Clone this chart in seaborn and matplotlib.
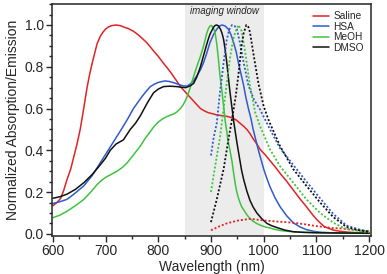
import matplotlib
matplotlib.use('Agg')
import matplotlib.pyplot as plt
from matplotlib.ticker import MultipleLocator
import seaborn as sns

# Absorption spectra (solid lines)
saline_abs_wl = [600, 608, 615, 621, 627, 634, 640, 646, 652, 658, 665, 670, 675, 680, 684, 690, 695,
                 700, 705, 712, 720, 728, 735, 744, 753, 762, 770, 778, 785, 792, 800, 808, 817, 824,
                 830, 836, 842, 851, 860, 870, 880, 888, 895, 903, 910, 918, 925, 933, 940, 948, 955,
                 962, 968, 974, 980, 987, 993, 1003, 1012, 1022, 1031, 1044, 1056, 1068, 1081, 1090,
                 1100, 1108, 1115, 1124, 1132, 1145, 1160, 1180, 1200]
saline_abs = [0.134, 0.15, 0.17, 0.21, 0.26, 0.31, 0.37, 0.43, 0.50, 0.59, 0.70, 0.765, 0.82, 0.87,
              0.91, 0.945, 0.965, 0.98, 0.99, 0.997, 1.0, 0.997, 0.99, 0.982, 0.97, 0.953, 0.935,
              0.916, 0.895, 0.873, 0.85, 0.823, 0.795, 0.772, 0.75, 0.728, 0.705, 0.68, 0.655, 0.627,
              0.60, 0.588, 0.58, 0.575, 0.57, 0.567, 0.565, 0.561, 0.555, 0.545, 0.53, 0.515, 0.50,
              0.48, 0.455, 0.43, 0.405, 0.378, 0.35, 0.32, 0.29, 0.25, 0.21, 0.17, 0.13, 0.10, 0.07,
              0.05, 0.035, 0.025, 0.018, 0.012, 0.008, 0.005, 0.004]

hsa_abs_wl = [600, 615, 627, 640, 659, 675, 690, 700, 715, 730, 742, 753, 762, 770, 778, 785, 793,
              800, 812, 820, 829, 838, 848, 855, 860, 866, 873, 880, 886, 892, 898, 905, 911, 916,
              921, 927, 933, 938, 943, 948, 952, 957, 962, 966, 971, 976, 980, 985, 990, 995, 1000,
              1006, 1012, 1021, 1031, 1043, 1056, 1068, 1081, 1095, 1110, 1140, 1200]
hsa_abs = [0.145, 0.155, 0.165, 0.19, 0.23, 0.28, 0.34, 0.38, 0.44, 0.50, 0.55, 0.60, 0.632, 0.66,
           0.685, 0.705, 0.717, 0.725, 0.732, 0.73, 0.724, 0.716, 0.708, 0.708, 0.716, 0.73, 0.756,
           0.785, 0.82, 0.865, 0.915, 0.955, 0.98, 0.995, 1.0, 0.995, 0.98, 0.953, 0.915, 0.87,
           0.82, 0.765, 0.71, 0.655, 0.60, 0.55, 0.50, 0.45, 0.40, 0.355, 0.31, 0.265, 0.225,
           0.175, 0.13, 0.088, 0.053, 0.034, 0.02, 0.012, 0.007, 0.004, 0.002]

meoh_abs_wl = [600, 614, 627, 643, 659, 672, 684, 692, 700, 711, 722, 732, 741, 753, 766, 775, 785,
               792, 800, 808, 815, 822, 830, 836, 842, 847, 852, 856, 860, 866, 873, 880, 886, 889,
               892, 895, 898, 901, 903, 906, 908, 911, 914, 917, 921, 924, 927, 930, 932, 934, 936,
               940, 943, 946, 949, 952, 955, 958, 962, 966, 970, 975, 980, 987, 995, 1003, 1012,
               1020, 1031, 1045, 1060, 1080, 1100, 1150, 1200]
meoh_abs = [0.077, 0.09, 0.108, 0.135, 0.165, 0.20, 0.236, 0.255, 0.27, 0.285, 0.30, 0.318, 0.34,
            0.378, 0.42, 0.456, 0.49, 0.514, 0.535, 0.55, 0.56, 0.567, 0.575, 0.585, 0.60, 0.617,
            0.64, 0.665, 0.695, 0.745, 0.80, 0.85, 0.90, 0.93, 0.96, 0.982, 0.995, 0.998, 0.99,
            0.978, 0.96, 0.91, 0.84, 0.76, 0.68, 0.61, 0.54, 0.49, 0.45, 0.425, 0.40, 0.345, 0.29,
            0.24, 0.20, 0.172, 0.15, 0.131, 0.115, 0.099, 0.085, 0.071, 0.06, 0.049, 0.04, 0.033,
            0.028, 0.022, 0.016, 0.012, 0.009, 0.007, 0.006, 0.004, 0.003]

dmso_abs_wl = [600, 614, 627, 643, 659, 675, 690, 700, 709, 720, 734, 747, 757, 766, 780, 791, 800,
               810, 822, 835, 844, 852, 860, 867, 873, 880, 885, 890, 894, 898, 902, 905, 908, 911,
               914, 918, 921, 924, 927, 930, 933, 936, 940, 943, 946, 949, 952, 955, 958, 962, 968,
               974, 980, 987, 996, 1006, 1015, 1025, 1040, 1056, 1075, 1100, 1150, 1200]
dmso_abs = [0.17, 0.178, 0.19, 0.213, 0.245, 0.285, 0.33, 0.362, 0.40, 0.43, 0.45, 0.50, 0.53,
            0.565, 0.63, 0.675, 0.693, 0.705, 0.707, 0.705, 0.702, 0.70, 0.708, 0.72, 0.75, 0.80,
            0.845, 0.89, 0.925, 0.955, 0.975, 0.99, 0.998, 1.0, 0.996, 0.98, 0.96, 0.93, 0.88,
            0.82, 0.75, 0.68, 0.60, 0.54, 0.49, 0.44, 0.395, 0.35, 0.305, 0.26, 0.205, 0.16, 0.128,
            0.10, 0.073, 0.05, 0.039, 0.03, 0.018, 0.01, 0.007, 0.005, 0.004, 0.003]

# Emission spectra (dotted lines)
saline_em_wl = [900, 915, 930, 950, 975, 993, 1020, 1056, 1080, 1100, 1130, 1151, 1175, 1200]
saline_em = [0.017, 0.035, 0.05, 0.063, 0.072, 0.066, 0.06, 0.053, 0.045, 0.037, 0.028, 0.025,
             0.018, 0.012]

hsa_em_wl = [900, 905, 911, 917, 924, 930, 935, 940, 945, 949, 955, 962, 971, 982, 993, 1012, 1031,
             1056, 1081, 1107, 1132, 1157, 1182, 1200]
hsa_em = [0.375, 0.46, 0.53, 0.676, 0.82, 0.93, 0.98, 1.0, 0.995, 0.98, 0.915, 0.82, 0.71, 0.64,
          0.596, 0.50, 0.41, 0.33, 0.25, 0.17, 0.095, 0.04, 0.02, 0.012]

meoh_em_wl = [900, 905, 911, 917, 922, 927, 932, 936, 942, 946, 952, 958, 965, 974, 984, 993, 1012,
              1031, 1056, 1081, 1107, 1132, 1157, 1200]
meoh_em = [0.20, 0.28, 0.37, 0.46, 0.56, 0.66, 0.76, 0.84, 0.93, 0.964, 1.0, 0.972, 0.868, 0.708,
           0.58, 0.516, 0.404, 0.324, 0.245, 0.165, 0.10, 0.053, 0.022, 0.008]

dmso_em_wl = [900, 911, 924, 933, 940, 947, 952, 958, 962, 967, 971, 974, 980, 990, 1000, 1010, 1031,
              1056, 1081, 1107, 1132, 1157, 1182, 1200]
dmso_em = [0.056, 0.165, 0.31, 0.45, 0.55, 0.66, 0.76, 0.90, 0.96, 1.0, 0.99, 0.965, 0.87, 0.72,
           0.61, 0.54, 0.42, 0.31, 0.23, 0.15, 0.08, 0.033, 0.016, 0.01]

labels = ['Saline', 'HSA', 'MeOH', 'DMSO']
colors = ['#e02424', '#2f5bcc', '#3ec43e', '#111111']

abs_series = [(saline_abs_wl, saline_abs), (hsa_abs_wl, hsa_abs),
              (meoh_abs_wl, meoh_abs), (dmso_abs_wl, dmso_abs)]
em_series = [(saline_em_wl, saline_em), (hsa_em_wl, hsa_em),
             (meoh_em_wl, meoh_em), (dmso_em_wl, dmso_em)]

sns.set_style('ticks')
plt.rcParams['font.family'] = ['Liberation Sans', 'DejaVu Sans']

fig = plt.figure(figsize=(3.87, 2.74), dpi=100)
ax = fig.add_axes([0.135, 0.139, 0.823, 0.846])

# imaging window shading
ax.axvspan(850, 1000, color='#ececec', zorder=0, lw=0)
ax.text(925, 1.066, 'imaging window', style='italic', fontsize=7, ha='center', va='center')

for (wl, val), lab, c in zip(abs_series, labels, colors):
    sns.lineplot(x=wl, y=val, ax=ax, color=c, lw=1.1, label=lab)
for (wl, val), c in zip(em_series, colors):
    sns.lineplot(x=wl, y=val, ax=ax, color=c, lw=1.3, linestyle=(0, (1.1, 1.1)))

ax.set_xlim(599, 1203)
ax.set_ylim(-0.01, 1.1)
ax.xaxis.set_major_locator(MultipleLocator(100))
ax.xaxis.set_minor_locator(MultipleLocator(50))
ax.yaxis.set_major_locator(MultipleLocator(0.2))
ax.yaxis.set_minor_locator(MultipleLocator(0.05))
ax.tick_params(which='major', length=4, width=1, labelsize=10, direction='out', pad=2)
ax.tick_params(which='minor', length=2, width=1, direction='out')
for s in ax.spines.values():
    s.set_visible(True)
    s.set_linewidth(1.1)
ax.set_xlabel('Wavelength (nm)', fontsize=10, labelpad=1)
ax.set_ylabel('Normalized Absorption/Emission', fontsize=10, labelpad=3)

ax.legend(loc='upper right', frameon=False, fontsize=7.3, handlelength=1.6, labelspacing=0.05,
          handletextpad=0.4, borderaxespad=0.3)

fig.savefig('out.png', dpi=100)
